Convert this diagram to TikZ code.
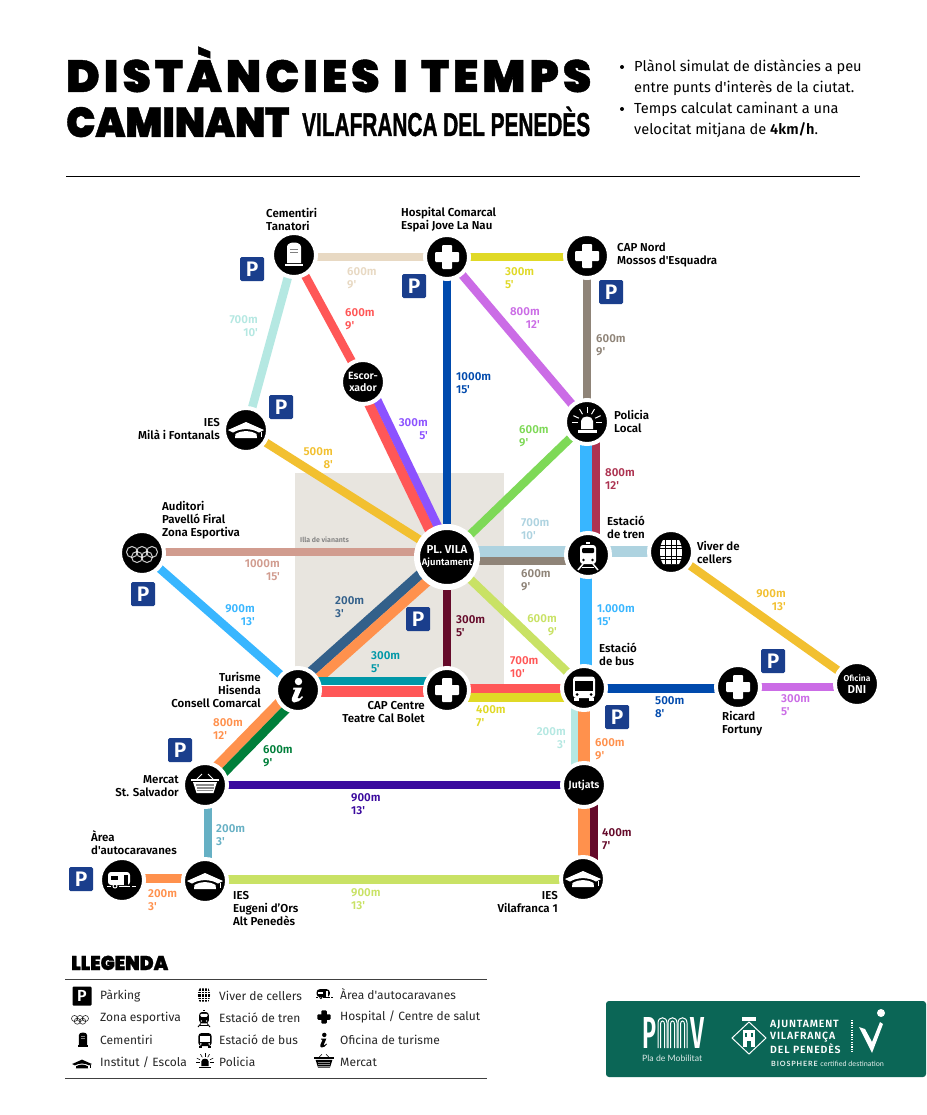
\documentclass[tikz,border=0pt]{standalone}
\usepackage{fontspec}
\usepackage{graphicx}
\usetikzlibrary{calc}
\newfontfamily\lf{Fira Sans}
\newfontfamily\lfb{Fira Sans SemiBold}
\newfontfamily\ttl{Poppins Black}[LetterSpace=9,FakeBold=1]
\newfontfamily\ttlb{Poppins Black}[FakeBold=1]
\newfontfamily\ttlc{Liberation Sans}[FakeBold=1.5]
\newfontfamily\logof{Lato}
\pgfdeclarelayer{lines}
\pgfsetlayers{lines,main}
\definecolor{beige}{HTML}{E8D9C3}
\definecolor{yel}{HTML}{E0D926}
\definecolor{lteal}{HTML}{B5E8E2}
\definecolor{redd}{HTML}{FF5757}
\definecolor{blued}{HTML}{004AAD}
\definecolor{purp}{HTML}{CB6CE6}
\definecolor{taupe}{HTML}{8F8478}
\definecolor{viol}{HTML}{8C52FF}
\definecolor{gold}{HTML}{F2C030}
\definecolor{grn}{HTML}{7ED957}
\definecolor{rose}{HTML}{D19C8F}
\definecolor{lblue}{HTML}{AED3E0}
\definecolor{sky}{HTML}{38B6FF}
\definecolor{crim}{HTML}{AD3351}
\definecolor{lime}{HTML}{C9E265}
\definecolor{maro}{HTML}{650A2A}
\definecolor{slate}{HTML}{33608A}
\definecolor{orng}{HTML}{FF914D}
\definecolor{tealb}{HTML}{0097A7}
\definecolor{dgreen}{HTML}{007F3A}
\definecolor{indg}{HTML}{3B0A9E}
\definecolor{steel}{HTML}{66B0C4}
\definecolor{parkb}{HTML}{1A3E8C}
\definecolor{zone}{HTML}{E8E5DF}
\definecolor{logog}{HTML}{0B6656}
\colorlet{fg}{white}
\colorlet{bg}{black}
\def\ilw{1pt}
\tikzset{
  line/.style={line width=8.5pt},
  stop/.style={circle,fill=black,draw=white,line width=4pt,minimum size=44pt,inner sep=0pt,outer sep=0pt},
  bigstop/.style={circle,fill=black,draw=white,line width=6pt,minimum size=60pt,inner sep=0pt,outer sep=0pt,text=white,align=center},
  stoptext/.style={text=white,align=center,font=\lfb\fontsize{10.5}{12}\selectfont},
  distlab/.style={inner sep=0pt,font=\lfb\fontsize{11.5}{13}\selectfont},
  placelab/.style={inner sep=0pt,text=black,font=\lfb\fontsize{11.5}{13}\selectfont},
  parksign/.style={fill=parkb,text=white,rounded corners=1.5pt,minimum size=24pt,inner sep=0pt,font=\lfb\fontsize{21}{21}\selectfont},
  legtext/.style={inner sep=0pt,anchor=west,text=black!85,font=\lf\fontsize{12}{14}\selectfont},
  ttlnode/.style={inner sep=0pt,anchor=base west,text=black},
  pics/crossic/.style={code={
    \fill[fg,rounded corners=1pt] (-12,-5) rectangle (12,5);
    \fill[fg,rounded corners=1pt] (-5,-12) rectangle (5,12);}},
  pics/tomb/.style={code={
    \fill[fg] (-7,8) -- (-7,-8) .. controls (-7,-14) and (7,-14) .. (7,-8) -- (7,8) -- cycle;
    \fill[fg] (-9,9) rectangle (9,11);
    \fill[black!50] (-4,-6.5) rectangle (4,-5.5);
    \fill[black!50] (-4,-3.5) rectangle (4,-2.5);}},
  pics/gradcap/.style={code={
    \fill[fg] (-18,0) -- (0,-8) -- (18,0) -- (13,2.5) .. controls (5,-2) and (-5,-2) .. (-13,2.5) -- cycle;
    \fill[fg] (-10.5,4) .. controls (-4,0) and (4,0) .. (10.5,4) -- (11,8) -- (-11,8) -- cycle;
    \fill[fg] (14.5,2) rectangle (15.5,7);}},
  pics/basket/.style={code={
    \fill[fg] (-14,-6.5) rectangle (14,-4);
    \fill[fg] (-12,-3) -- (12,-3) -- (8.5,8) -- (-8.5,8) -- cycle;
    \fill[black!45] (-9,-.6) rectangle (9,.6);
    \fill[black!45] (-8.5,2.4) rectangle (8.5,3.6);
    \fill[black!45] (-8,5) rectangle (8,6);
    \draw[fg,line width=\ilw] (-8,-6) -- (-3,-11);
    \draw[fg,line width=\ilw] (8,-6) -- (3,-11);}},
  pics/caravan/.style={code={
    \fill[fg,rounded corners=3pt] (-14,-8) rectangle (8,5);
    \fill[bg] (-11,-4) rectangle (-4,0);
    \fill[bg] (1.5,-5) rectangle (5.5,5);
    \draw[fg,line width=\ilw] (-15,6) -- (-11,6);
    \draw[fg,line width=\ilw] (-3,6) -- (8,6);
    \draw[fg,line width=\ilw] (10,6) -- (14,6);
    \draw[fg,line width=\ilw] (-7,6) circle (2);}},
  pics/rings/.style={code={
    \foreach \q/\w in {-10/-1,0/-1,10/-1,-5/4,5/4}
      \draw[fg,opacity=.8,line width=\ilw] (\q,\w) circle (5.5);}},
  pics/trainic/.style={code={
    \fill[fg,rounded corners=3pt] (-8,-10) rectangle (8,9);
    \fill[bg,rounded corners=1pt] (-6,-7) rectangle (6,-2);
    \fill[bg] (-4.5,5) circle (1.3);
    \fill[bg] (4.5,5) circle (1.3);
    \fill[fg] (-2,-13) rectangle (2,-11);
    \draw[fg,line width=1.5*\ilw] (-5,9) -- (-10,15);
    \draw[fg,line width=1.5*\ilw] (5,9) -- (10,15);
    \draw[fg,line width=\ilw] (-6,12) -- (6,12);}},
  pics/busic/.style={code={
    \fill[fg,rounded corners=3pt] (-11,-11.5) rectangle (11,10);
    \fill[bg] (-9,-7.5) rectangle (9,2.5);
    \fill[bg] (-7,6.5) circle (1.5);
    \fill[bg] (7,6.5) circle (1.5);
    \fill[fg] (-10,10) rectangle (-5,13);
    \fill[fg] (5,10) rectangle (10,13);}},
  pics/beacon/.style={code={
    \fill[fg] (-6,7) -- (-6,-1) .. controls (-6,-7) and (6,-7) .. (6,-1) -- (6,7) -- cycle;
    \fill[fg] (-9.5,8) rectangle (9.5,10.5);
    \foreach \a in {0,25,60,90,120,155,180}
      \draw[fg,line width=\ilw] ({9*cos(\a)},{0-9*sin(\a)}) -- ({15*cos(\a)},{0-15*sin(\a)});}},
  pics/barrel/.style={code={
    \fill[fg] (-8,-12) -- (8,-12) .. controls (12,-6) and (12,6) .. (8,12) -- (-8,12) .. controls (-12,6) and (-12,-6) .. (-8,-12) -- cycle;
    \foreach \q in {-5.5,0,5.5} \draw[bg,line width=.8*\ilw] (\q,-12) -- (\q,12);
    \foreach \w in {-7,-4,4,7} \draw[bg,line width=.8*\ilw] (-12,\w) -- (12,\w);}},
  pics/infoic/.style={code={
    \fill[fg] (0.5,-8.5) circle (3.7);
    \fill[fg] (-4.5,-2.5) -- (4,-2.5) -- (-.5,8) .. controls (0,9.5) and (2,8.5) .. (4,6) -- (5,7) .. controls (2,11) and (-1,12.5) .. (-4,12.5) .. controls (-6.5,12.5) and (-6.5,9.5) .. (-6,8) -- (-2.5,-.5) -- (-5,-.5) -- cycle;}},
}
\newcommand\link[5][8.5pt]{\draw[line,line width=#1,draw=#2] ($(#3)!#5!90:(#4)$) -- ($(#4)!#5!-90:(#3)$);}
\newcommand\hl[5][8.5pt]{\draw[line,line width=#1,draw=#2] (#3 |- 0,#5) -- (#4 |- 0,#5);}
\newcommand\vl[5][8.5pt]{\draw[line,line width=#1,draw=#2] (#5,0 |- #3) -- (#5,0 |- #4);}
\newcommand\distL[5]{\node[distlab,text=#2,anchor=west,align=left] (#1) at (#3,#4) {#5};}
\newcommand\distR[5]{\node[distlab,text=#2,anchor=east,align=right] (#1) at (#3,#4) {#5};}
\newcommand\placeL[4]{\node[placelab,anchor=west,align=left] (#1) at (#2,#3) {#4};}
\newcommand\placeR[4]{\node[placelab,anchor=east,align=right] (#1) at (#2,#3) {#4};}
\begin{document}
\begin{tikzpicture}[x=1pt,y=-1pt]
\useasboundingbox (0,0) rectangle (926,1115);

% title
\node[ttlnode] (t1) at (66,92) {\resizebox{525pt}{\height}{\ttl\fontsize{45}{45}\selectfont DISTÀNCIES\hspace{.3em}I\hspace{.3em}TEMPS}};
\node[ttlnode] (t2) at (66,137) {\resizebox{223pt}{\height}{\ttlb\fontsize{42}{42}\selectfont CAMINANT}};
\node[ttlnode] (t3) at (302,136) {\resizebox{288pt}{\height}{\ttlc\fontsize{33}{33}\selectfont\bfseries VILAFRANCA DEL PENEDÈS}};
\fill (622,67) circle (2);
\fill (622,109) circle (2);
\node[inner sep=0pt,anchor=west,align=left,font=\lf\fontsize{14.6}{21}\selectfont] (b1) at (634,77.5) {Plànol simulat de distàncies a peu\\entre punts d'interès de la ciutat.};
\node[inner sep=0pt,anchor=west,align=left,font=\lf\fontsize{14.6}{21}\selectfont] (b2) at (634,119.5) {Temps calculat caminant a una\\velocitat mitjana de {\lfb 4km/h}.};
\coordinate (r1a) at (66,177); \coordinate (r1b) at (860,177);
\draw[line width=1pt] (r1a) -- (r1b);

% nodes
\node[stop] (cem) at (294,255) {};
\node[stop] (hosp) at (447,257) {};
\node[stop] (capn) at (587,256) {};
\node[stop] (esc) at (363,382) {};
\node[stop] (mila) at (246,430) {};
\node[stop] (pol) at (587,422) {};
\node[bigstop] (pl) at (447,557) {};
\node[stop] (tren) at (588,555) {};
\node[stop] (viver) at (671,552) {};
\node[stop] (aud) at (142,553) {};
\node[stop] (dni) at (857,684) {};
\node[stop] (ric) at (738,687) {};
\node[stop] (bus) at (584,688) {};
\node[stop] (cap) at (447,690) {};
\node[stop] (tur) at (298,690) {};
\node[stop] (jut) at (584,785) {};
\node[stop] (ies1) at (583,879) {};
\node[stop] (merc) at (205,785) {};
\node[stop] (ieo) at (205,881) {};
\node[stop] (area) at (122,880) {};

\begin{pgfonlayer}{lines}
\fill[white] (0,0) rectangle (926,1115);
\fill[zone] (295,473) rectangle (504,684);
\hl{beige}{cem}{hosp}{257}
\hl{yel}{hosp}{capn}{257}
\link{lteal}{cem}{mila}{0pt}
\link{redd}{cem}{esc}{0pt}
\vl{blued}{hosp}{pl}{447}
\link{purp}{hosp}{pol}{0pt}
\vl{taupe}{capn}{pol}{587}
\link[10pt]{redd}{esc}{pl}{-4pt}
\link{viol}{esc}{pl}{5pt}
\link{gold}{mila}{pl}{0pt}
\link{grn}{pol}{pl}{0pt}
\hl{rose}{aud}{pl}{552}
\hl[11.5pt]{lblue}{pl}{tren}{551.5}
\hl{taupe}{pl}{tren}{561}
\hl[11.5pt]{lblue}{tren}{viver}{551.5}
\link{gold}{viver}{dni}{0pt}
\vl[12pt]{sky}{pol}{tren}{586}
\vl{crim}{pol}{tren}{596}
\vl[12pt]{sky}{tren}{bus}{586}
\link{lime}{pl}{bus}{0pt}
\vl{maro}{pl}{cap}{447}
\link[10pt]{slate}{tur}{pl}{5pt}
\link[10pt]{orng}{tur}{pl}{-5pt}
\link{sky}{aud}{tur}{0pt}
\hl{tealb}{tur}{cap}{681}
\hl[11pt]{redd}{tur}{cap}{691}
\hl{redd}{cap}{bus}{688.5}
\hl{yel}{cap}{bus}{697.5}
\hl{blued}{bus}{ric}{688.5}
\hl{purp}{ric}{dni}{687}
\vl{lteal}{bus}{jut}{575}
\vl[12pt]{orng}{bus}{jut}{584}
\vl[12pt]{orng}{jut}{ies1}{584}
\vl{maro}{jut}{ies1}{594}
\link[10pt]{orng}{tur}{merc}{-4.5pt}
\link[9pt]{dgreen}{tur}{merc}{5pt}
\hl{indg}{merc}{jut}{785}
\vl{steel}{merc}{ieo}{208}
\hl{lime}{ieo}{ies1}{879.5}
\hl{orng}{area}{ieo}{878.5}
\end{pgfonlayer}

% icons
\pic at (cem) {tomb};
\pic at (hosp) {crossic};
\pic at (capn) {crossic};
\pic at (mila) {gradcap};
\pic at (pol) {beacon};
\pic at (tren) {trainic};
\pic at (viver) {barrel};
\pic at (aud) {rings};
\pic at (ric) {crossic};
\pic at (bus) {busic};
\pic at (cap) {crossic};
\pic at (tur) {infoic};
\pic at (ies1) {gradcap};
\pic at (merc) {basket};
\pic at (ieo) {gradcap};
\pic at (area) {caravan};
% texts in stops
\node[stoptext] (tesc) at (esc) {Escor-\\xador};
\node[stoptext] (tjut) at (jut) {Jutjats};
\node[stoptext] (tdni) at (dni) {{\fontsize{8.5}{11}\selectfont Oficina}\\{\fontsize{11.5}{12}\selectfont DNI}};
\node[stoptext] (tpl) at (pl) {{\fontsize{11.5}{13}\selectfont PL. VILA}\\{\fontsize{9.5}{11}\selectfont Ajuntament}};
% zone label
\node[inner sep=0pt,anchor=west,text=black!50,font=\lfb\fontsize{7}{8}\selectfont] (zl) at (300,540) {Illa de vianants};

% parking
\node[parksign] (p1) at (252,269) {P};
\node[parksign] (p2) at (414,286) {P};
\node[parksign] (p3) at (281,407) {P};
\node[parksign] (p4) at (611,292) {P};
\node[parksign] (p5) at (143,594) {P};
\node[parksign] (p6) at (418,619) {P};
\node[parksign] (p7) at (773,661) {P};
\node[parksign] (p8) at (617,717) {P};
\node[parksign] (p9) at (180,750) {P};
\node[parksign] (p10) at (81,879) {P};

% places
\placeL{n1}{266}{219.5}{Cementiri\\Tanatori}
\placeL{n2}{401}{219.5}{Hospital Comarcal\\Espai Jove La Nau}
\placeL{n3}{617}{254.5}{CAP Nord\\Mossos d'Esquadra}
\placeR{n4}{220}{429.5}{IES\\Milà i Fontanals}
\placeL{n5}{614}{421.5}{Policia\\Local}
\placeL{n6}{607}{527.5}{Estació\\de tren}
\placeL{n7}{697}{552}{Viver de\\cellers}
\placeL{n8}{162}{520}{Auditori\\Pavelló Firal\\Zona Esportiva}
\placeL{n9}{599}{654.5}{Estació\\de bus}
\placeR{n10}{261}{690}{Turisme\\Hisenda\\Consell Comarcal}
\placeR{n11}{425}{712.5}{CAP Centre\\Teatre Cal Bolet}
\placeL{n12}{722}{723.5}{Ricard\\Fortuny}
\placeR{n13}{179}{786.5}{Mercat\\St. Salvador}
\placeL{n14}{91}{842.5}{Àrea\\d'autocaravanes}
\placeL{n15}{233}{909}{IES\\Eugeni d’Ors\\Alt Penedès}
\placeR{n16}{558}{902.5}{IES\\Vilafranca 1}

% distances
\distL{d1}{beige}{347}{278.5}{600m\\9'}
\distL{d2}{redd}{345}{319.5}{600m\\9'}
\distL{d3}{yel}{505}{278.5}{300m\\5'}
\distR{d4}{purp}{540}{318.5}{800m\\12'}
\distL{d5}{blued}{456}{383.5}{1000m\\15'}
\distL{d6}{taupe}{596}{345.5}{600m\\9'}
\distR{d7}{lteal}{258}{326.5}{700m\\10'}
\distR{d8}{viol}{428}{429.5}{300m\\5'}
\distR{d9}{gold}{333}{458.5}{500m\\8'}
\distL{d10}{grn}{519}{436.5}{600m\\9'}
\distL{d11}{crim}{605}{479.5}{800m\\12'}
\distL{d12}{lblue}{521}{529.5}{700m\\10'}
\distL{d13}{taupe}{521}{580.5}{600m\\9'}
\distR{d14}{rose}{280}{570.5}{1000m\\15'}
\distR{d15}{sky}{255}{615.5}{900m\\13'}
\distL{d16}{slate}{335}{607.5}{200m\\3'}
\distL{d17}{maro}{456}{626.5}{300m\\5'}
\distL{d18}{tealb}{371}{662.5}{300m\\5'}
\distR{d19}{lime}{557}{625.5}{600m\\9'}
\distL{d20}{sky}{597}{615.5}{1.000m\\15'}
\distR{d21}{gold}{786}{600.5}{900m\\13'}
\distL{d22}{redd}{510}{667.5}{700m\\10'}
\distL{d23}{yel}{476}{716.5}{400m\\7'}
\distL{d24}{blued}{655}{707.5}{500m\\8'}
\distL{d25}{purp}{781}{705.5}{300m\\5'}
\distL{d26}{orng}{213}{729}{800m\\12'}
\distL{d27}{dgreen}{263}{756.5}{600m\\9'}
\distR{d28}{lteal}{566}{738.5}{200m\\3'}
\distL{d29}{orng}{595}{749.5}{600m\\9'}
\distL{d30}{indg}{351}{804.5}{900m\\13'}
\distL{d31}{steel}{216}{835.5}{200m\\3'}
\distL{d32}{orng}{148}{900.5}{200m\\3'}
\distL{d33}{lime}{351}{899.5}{900m\\13'}
\distL{d34}{maro}{602}{839.5}{400m\\7'}

% legend
\node[ttlnode] (lt) at (71,970) {\resizebox{97pt}{\height}{\ttlb\fontsize{20}{20}\selectfont LLEGENDA}};
\coordinate (r2a) at (65,979); \coordinate (r2b) at (487,979);
\coordinate (r3a) at (65,1078); \coordinate (r3b) at (487,1078);
\draw[line width=1pt,black!75] (r2a) -- (r2b);
\draw[line width=1pt,black!75] (r3a) -- (r3b);
\begin{scope}
\colorlet{fg}{black}\colorlet{bg}{white}\def\ilw{.6pt}
\node[fill=black,text=white,rounded corners=1pt,minimum size=19pt,inner sep=0pt,font=\lfb\fontsize{16}{16}\selectfont] (lp) at (82,996) {P};
\pic[scale=.55] at (80,1019) {rings};
\pic[scale=.6] at (83,1040) {tomb};
\pic[scale=.55] at (82,1064) {gradcap};
\pic[scale=.55] at (204,995) {barrel};
\pic[scale=.6] at (204,1018) {trainic};
\pic[scale=.6] at (205,1040) {busic};
\pic[scale=.6] at (205,1062) {beacon};
\pic[scale=.6] at (325,994) {caravan};
\pic[scale=.55] at (324,1017) {crossic};
\pic[scale=.6] at (324,1040) {infoic};
\pic[scale=.7] at (324,1062) {basket};
\end{scope}
\node[legtext] (l1) at (100,996) {Pàrking};
\node[legtext] (l2) at (100,1018) {Zona esportiva};
\node[legtext] (l3) at (100,1040) {Cementiri};
\node[legtext] (l4) at (100,1062) {Institut / Escola};
\node[legtext] (l5) at (219,996) {Viver de cellers};
\node[legtext] (l6) at (219,1018) {Estació de tren};
\node[legtext] (l7) at (219,1040) {Estació de bus};
\node[legtext] (l8) at (219,1062) {Policia};
\node[legtext] (l9) at (340,994) {Àrea d'autocaravanes};
\node[legtext] (l10) at (340,1017) {Hospital / Centre de salut};
\node[legtext] (l11) at (340,1040) {Oficina de turisme};
\node[legtext] (l12) at (340,1062) {Mercat};

% logos
\fill[logog,rounded corners=3pt] (606,1001) -- (926,1001) -- (926,1077) -- (606,1077) -- cycle;
\node[ttlnode,text=white] (lp1) at (642,1048) {\resizebox{14pt}{31pt}{\lfb P}};
\node[ttlnode,text=white] (lp2) at (690,1048) {\resizebox{14pt}{31pt}{\lfb V}};
\foreach \q in {658,668,678}{
  \draw[white,line width=1pt] (\q,1048) -- (\q,1023) .. controls (\q,1016) and (\q+9,1016) .. (\q+9,1023) -- (\q+9,1048);
  \draw[white,line width=1pt] (\q+2.5,1048) -- (\q+2.5,1024) .. controls (\q+2.5,1020) and (\q+6.5,1020) .. (\q+6.5,1024) -- (\q+6.5,1048);
}
\node[inner sep=0pt,anchor=west,text=white!85!logog,font=\logof\fontsize{8.7}{10}\selectfont] (lp3) at (642,1058) {Pla de Mobilitat};
% coat of arms
\draw[white,line width=1pt] (749,1022) -- (766,1038) -- (749,1054) -- (732,1038) -- cycle;
\fill[white] (743,1030) rectangle (755,1047);
\fill[logog] (747,1041) rectangle (751,1047);
\fill[logog] (745,1033) rectangle (747,1037);
\fill[logog] (751,1033) rectangle (753,1037);
\fill[white] (742,1017) rectangle (756,1021);
\node[inner sep=0pt,anchor=west,align=left,text=white,font=\lfb\fontsize{10.5}{12}\selectfont] (la1) at (770,1037) {\addfontfeature{LetterSpace=8}AJUNTAMENT\\\addfontfeature{LetterSpace=8}VILAFRANÇA\\\addfontfeature{LetterSpace=8}DEL PENEDÈS};
\node[inner sep=0pt,anchor=west,text=white!90!logog,font=\logof\fontsize{7.2}{8}\selectfont] (la2) at (771,1064) {\textbf{\addfontfeature{LetterSpace=12}BIOSPHERE} certified destination};
\draw[white,line width=1.2pt,dash pattern=on 1.2pt off 1.2pt] (852,1020) -- (852,1053);
\fill[white] (881,1013) circle (4);
\fill[white] (859,1027) -- (865,1029) -- (872,1042) -- (880,1022) -- (883,1024) -- (872,1053) -- cycle;
\end{tikzpicture}
\end{document}
